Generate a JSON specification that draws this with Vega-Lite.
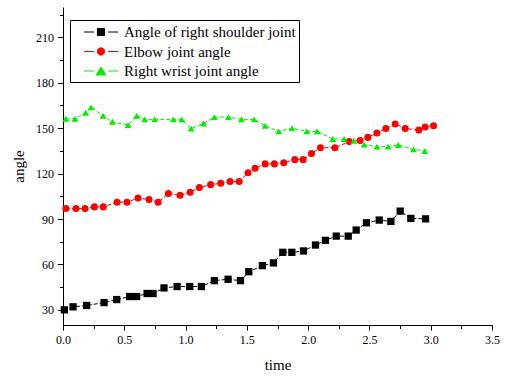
{
  "$schema": "https://vega.github.io/schema/vega-lite/v6.json",
  "autosize": "none",
  "width": 429,
  "height": 318,
  "padding": {"left": 63, "top": 7, "right": 13, "bottom": 51},
  "config": {
    "font": "'Liberation Serif', 'Times New Roman', Times, serif",
    "view": {"stroke": null},
    "axis": {"grid": false, "domainColor": "black", "tickColor": "black", "labelColor": "black", "titleColor": "black", "labelFont": "'Liberation Serif', 'Times New Roman', Times, serif", "titleFont": "'Liberation Serif', 'Times New Roman', Times, serif", "labelFontSize": 12, "titleFontSize": 15, "titleFontWeight": "normal", "domainWidth": 1, "tickWidth": 1}
  },
  "datasets": {
    "d": [
      {"series": "Angle of right shoulder joint", "t": 0.011, "angle": 30.0},
      {"series": "Angle of right shoulder joint", "t": 0.082, "angle": 32.0},
      {"series": "Angle of right shoulder joint", "t": 0.193, "angle": 32.9},
      {"series": "Angle of right shoulder joint", "t": 0.335, "angle": 34.8},
      {"series": "Angle of right shoulder joint", "t": 0.438, "angle": 36.8},
      {"series": "Angle of right shoulder joint", "t": 0.544, "angle": 38.8},
      {"series": "Angle of right shoulder joint", "t": 0.601, "angle": 38.8},
      {"series": "Angle of right shoulder joint", "t": 0.686, "angle": 40.8},
      {"series": "Angle of right shoulder joint", "t": 0.735, "angle": 40.8},
      {"series": "Angle of right shoulder joint", "t": 0.824, "angle": 44.5},
      {"series": "Angle of right shoulder joint", "t": 0.931, "angle": 45.4},
      {"series": "Angle of right shoulder joint", "t": 1.034, "angle": 45.4},
      {"series": "Angle of right shoulder joint", "t": 1.129, "angle": 45.4},
      {"series": "Angle of right shoulder joint", "t": 1.235, "angle": 49.3},
      {"series": "Angle of right shoulder joint", "t": 1.347, "angle": 50.2},
      {"series": "Angle of right shoulder joint", "t": 1.448, "angle": 49.3},
      {"series": "Angle of right shoulder joint", "t": 1.516, "angle": 55.2},
      {"series": "Angle of right shoulder joint", "t": 1.627, "angle": 59.2},
      {"series": "Angle of right shoulder joint", "t": 1.717, "angle": 61.0},
      {"series": "Angle of right shoulder joint", "t": 1.793, "angle": 68.0},
      {"series": "Angle of right shoulder joint", "t": 1.867, "angle": 68.0},
      {"series": "Angle of right shoulder joint", "t": 1.962, "angle": 68.9},
      {"series": "Angle of right shoulder joint", "t": 2.06, "angle": 72.8},
      {"series": "Angle of right shoulder joint", "t": 2.141, "angle": 75.9},
      {"series": "Angle of right shoulder joint", "t": 2.229, "angle": 78.7},
      {"series": "Angle of right shoulder joint", "t": 2.327, "angle": 78.7},
      {"series": "Angle of right shoulder joint", "t": 2.392, "angle": 82.7},
      {"series": "Angle of right shoulder joint", "t": 2.476, "angle": 87.5},
      {"series": "Angle of right shoulder joint", "t": 2.58, "angle": 89.3},
      {"series": "Angle of right shoulder joint", "t": 2.675, "angle": 88.4},
      {"series": "Angle of right shoulder joint", "t": 2.751, "angle": 95.2},
      {"series": "Angle of right shoulder joint", "t": 2.838, "angle": 90.4},
      {"series": "Angle of right shoulder joint", "t": 2.958, "angle": 90.1},
      {"series": "Elbow joint angle", "t": 0.024, "angle": 96.9},
      {"series": "Elbow joint angle", "t": 0.106, "angle": 96.9},
      {"series": "Elbow joint angle", "t": 0.18, "angle": 96.9},
      {"series": "Elbow joint angle", "t": 0.256, "angle": 98.0},
      {"series": "Elbow joint angle", "t": 0.329, "angle": 98.0},
      {"series": "Elbow joint angle", "t": 0.441, "angle": 101.1},
      {"series": "Elbow joint angle", "t": 0.522, "angle": 101.1},
      {"series": "Elbow joint angle", "t": 0.612, "angle": 103.8},
      {"series": "Elbow joint angle", "t": 0.702, "angle": 102.9},
      {"series": "Elbow joint angle", "t": 0.776, "angle": 101.1},
      {"series": "Elbow joint angle", "t": 0.86, "angle": 106.8},
      {"series": "Elbow joint angle", "t": 0.955, "angle": 105.7},
      {"series": "Elbow joint angle", "t": 1.037, "angle": 107.7},
      {"series": "Elbow joint angle", "t": 1.113, "angle": 110.8},
      {"series": "Elbow joint angle", "t": 1.205, "angle": 112.7},
      {"series": "Elbow joint angle", "t": 1.287, "angle": 113.6},
      {"series": "Elbow joint angle", "t": 1.363, "angle": 114.7},
      {"series": "Elbow joint angle", "t": 1.437, "angle": 114.7},
      {"series": "Elbow joint angle", "t": 1.51, "angle": 120.6},
      {"series": "Elbow joint angle", "t": 1.567, "angle": 123.5},
      {"series": "Elbow joint angle", "t": 1.649, "angle": 126.4},
      {"series": "Elbow joint angle", "t": 1.725, "angle": 126.4},
      {"series": "Elbow joint angle", "t": 1.801, "angle": 127.2},
      {"series": "Elbow joint angle", "t": 1.891, "angle": 129.2},
      {"series": "Elbow joint angle", "t": 1.959, "angle": 129.2},
      {"series": "Elbow joint angle", "t": 2.027, "angle": 133.2},
      {"series": "Elbow joint angle", "t": 2.1, "angle": 137.1},
      {"series": "Elbow joint angle", "t": 2.218, "angle": 137.1},
      {"series": "Elbow joint angle", "t": 2.335, "angle": 141.1},
      {"series": "Elbow joint angle", "t": 2.424, "angle": 141.9},
      {"series": "Elbow joint angle", "t": 2.487, "angle": 143.9},
      {"series": "Elbow joint angle", "t": 2.561, "angle": 146.8},
      {"series": "Elbow joint angle", "t": 2.634, "angle": 149.8},
      {"series": "Elbow joint angle", "t": 2.71, "angle": 152.7},
      {"series": "Elbow joint angle", "t": 2.792, "angle": 149.8},
      {"series": "Elbow joint angle", "t": 2.903, "angle": 148.7},
      {"series": "Elbow joint angle", "t": 2.955, "angle": 150.7},
      {"series": "Elbow joint angle", "t": 3.023, "angle": 151.6},
      {"series": "Right wrist joint angle", "t": 0.022, "angle": 156.2},
      {"series": "Right wrist joint angle", "t": 0.098, "angle": 156.2},
      {"series": "Right wrist joint angle", "t": 0.185, "angle": 160.2},
      {"series": "Right wrist joint angle", "t": 0.229, "angle": 163.7},
      {"series": "Right wrist joint angle", "t": 0.327, "angle": 158.2},
      {"series": "Right wrist joint angle", "t": 0.403, "angle": 154.2},
      {"series": "Right wrist joint angle", "t": 0.531, "angle": 152.0},
      {"series": "Right wrist joint angle", "t": 0.601, "angle": 158.2},
      {"series": "Right wrist joint angle", "t": 0.667, "angle": 155.8},
      {"series": "Right wrist joint angle", "t": 0.748, "angle": 155.8},
      {"series": "Right wrist joint angle", "t": 0.9, "angle": 155.8},
      {"series": "Right wrist joint angle", "t": 0.969, "angle": 155.8},
      {"series": "Right wrist joint angle", "t": 1.045, "angle": 149.8},
      {"series": "Right wrist joint angle", "t": 1.146, "angle": 153.1},
      {"series": "Right wrist joint angle", "t": 1.235, "angle": 157.3},
      {"series": "Right wrist joint angle", "t": 1.35, "angle": 157.3},
      {"series": "Right wrist joint angle", "t": 1.456, "angle": 155.8},
      {"series": "Right wrist joint angle", "t": 1.559, "angle": 155.8},
      {"series": "Right wrist joint angle", "t": 1.649, "angle": 151.6},
      {"series": "Right wrist joint angle", "t": 1.76, "angle": 147.9},
      {"series": "Right wrist joint angle", "t": 1.869, "angle": 150.0},
      {"series": "Right wrist joint angle", "t": 1.989, "angle": 147.9},
      {"series": "Right wrist joint angle", "t": 2.073, "angle": 147.9},
      {"series": "Right wrist joint angle", "t": 2.201, "angle": 142.8},
      {"series": "Right wrist joint angle", "t": 2.294, "angle": 142.8},
      {"series": "Right wrist joint angle", "t": 2.373, "angle": 141.7},
      {"series": "Right wrist joint angle", "t": 2.457, "angle": 139.1},
      {"series": "Right wrist joint angle", "t": 2.561, "angle": 137.8},
      {"series": "Right wrist joint angle", "t": 2.653, "angle": 137.8},
      {"series": "Right wrist joint angle", "t": 2.735, "angle": 138.9},
      {"series": "Right wrist joint angle", "t": 2.86, "angle": 136.0},
      {"series": "Right wrist joint angle", "t": 2.952, "angle": 134.9}
    ]
  },
  "data": {"name": "d"},
  "resolve": {"axis": {"x": "independent", "y": "independent"}},
  "layer": [
    {
      "mark": {"type": "line", "strokeWidth": 1, "strokeDash": [4, 2]},
      "encoding": {
        "x": {"field": "t", "type": "quantitative", "scale": {"domain": [0, 3.5], "nice": false, "zero": false},
          "axis": {"orient": "bottom", "title": "time", "values": [0, 0.5, 1, 1.5, 2, 2.5, 3, 3.5], "format": ".1f", "tickSize": 5, "labelPadding": 4, "titlePadding": 12, "labelFlush": false}},
        "y": {"field": "angle", "type": "quantitative", "scale": {"domain": [20, 230], "nice": false, "zero": false},
          "axis": {"orient": "left", "title": "angle", "values": [30, 60, 90, 120, 150, 180, 210], "tickSize": 5.5, "labelPadding": 4, "titlePadding": 9}},
        "color": {"field": "series", "type": "nominal",
          "scale": {"domain": ["Angle of right shoulder joint", "Elbow joint angle", "Right wrist joint angle"], "range": ["#000000", "#ff0000", "#00ee00"]},
          "legend": {
            "orient": "none", "legendX": 7, "legendY": 13, "title": null,
            "padding": 3, "rowPadding": 2.5, "symbolSize": 289, "symbolOffset": 19, "labelOffset": 14,
            "labelFont": "'Liberation Serif', 'Times New Roman', Times, serif", "labelFontSize": 15, "labelColor": "black", "labelLimit": 400,
            "strokeColor": "black", "fillColor": "white", "symbolStrokeWidth": 1,
            "encode": {"symbols": {"update": {
              "shape": {"signal": "datum.value === 'Angle of right shoulder joint' ? 'M-2,0H-0.82M0.82,0H2M-0.42,-0.42H0.42V0.42H-0.42Z' : datum.value === 'Elbow joint angle' ? 'M-2,0H-0.82M0.82,0H2M-0.43,0A0.43,0.43 0 1,0 0.43,0A0.43,0.43 0 1,0 -0.43,0Z' : 'M-2,0H-0.82M0.82,0H2M0,-0.47L0.56,0.47L-0.56,0.47Z'"},
              "fill": {"scale": "color", "field": "value"},
              "stroke": {"scale": "color", "field": "value"},
              "strokeWidth": {"value": 1},
              "opacity": {"value": 1}
            }}}
          }}
      }
    },
    {
      "mark": {"type": "point", "filled": true, "opacity": 1},
      "encoding": {
        "x": {"field": "t", "type": "quantitative",
          "axis": {"orient": "bottom", "title": null, "values": [0.25, 0.75, 1.25, 1.75, 2.25, 2.75, 3.25], "labels": false, "domain": false, "tickSize": 3.5}},
        "y": {"field": "angle", "type": "quantitative",
          "axis": {"orient": "left", "title": null, "values": [45, 75, 105, 135, 165, 195, 225], "labels": false, "domain": false, "tickSize": 3.5}},
        "color": {"field": "series", "type": "nominal"},
        "shape": {"field": "series", "type": "nominal", "scale": {"range": ["square", "circle", "triangle-up"]}, "legend": null},
        "size": {"field": "series", "type": "nominal", "scale": {"range": [53, 46, 85]}, "legend": null}
      }
    }
  ]
}
